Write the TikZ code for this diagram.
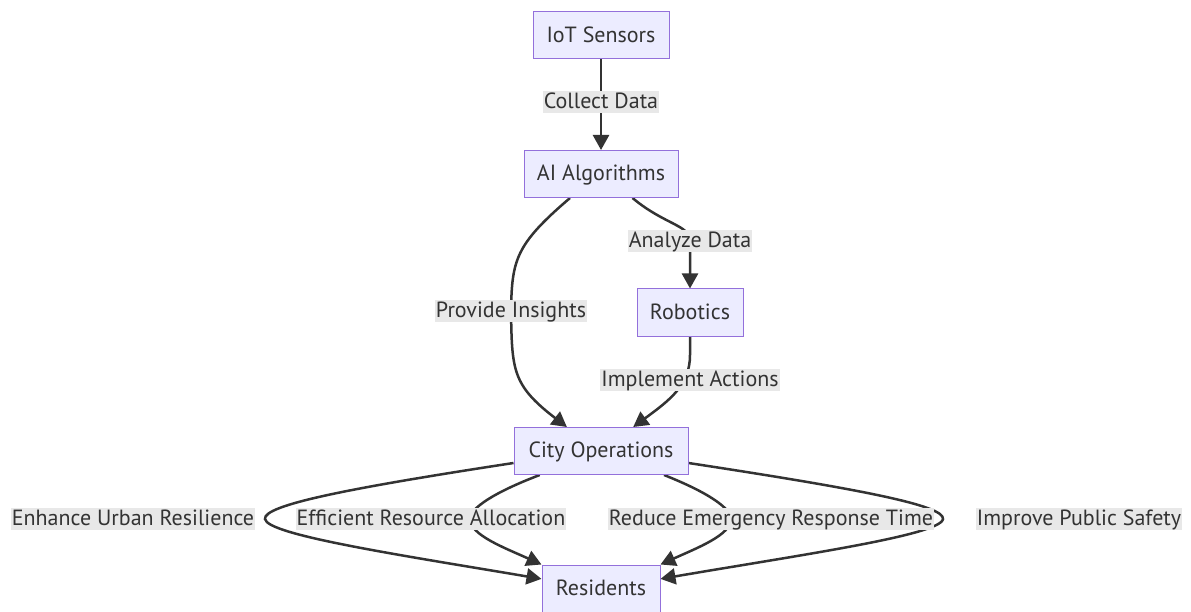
\documentclass[tikz,border=0pt]{standalone}
\usepackage{fontspec}
\setmainfont{PT Sans}
\usetikzlibrary{arrows.meta,calc}
\definecolor{nodefill}{HTML}{ECECFF}
\definecolor{nodeline}{HTML}{9370DB}
\definecolor{ink}{HTML}{333333}
\definecolor{labelbg}{HTML}{E8E8E8}
\pgfdeclarelayer{edges}
\pgfsetlayers{edges,main}
\begin{document}
\begin{tikzpicture}[x=1pt,y=-1pt,
  txt/.style={text=ink, font=\fontsize{22}{26}\selectfont,
    text height=17.5pt, text depth=4pt},
  box/.style={txt, draw=nodeline, fill=nodefill, line width=1pt,
    minimum height=47pt, inner sep=0pt},
  elabel/.style={txt, fill=labelbg, inner xsep=1pt, inner ysep=0.25pt},
  link/.style={draw=ink, line width=2.5pt, -{Triangle[length=15pt,width=16pt]}}
]
\useasboundingbox (0,0) rectangle (1191,612);

% process boxes
\node[box, minimum width=136pt] (iot)  at (601,35.5)  {IoT Sensors};
\node[box, minimum width=154pt] (ai)   at (601,174)   {AI Algorithms};
\node[box, minimum width=106pt] (rob)  at (690,312.5) {Robotics};
\node[box, minimum width=174pt] (city) at (601,451)   {City Operations};
\node[box, minimum width=118pt] (res)  at (601,588.5) {Residents};

% edge labels
\node[elabel] (collect)   at (601,102) {Collect Data};
\node[elabel] (analyze)   at (690,241) {Analyze Data};
\node[elabel] (provide)   at (511,311) {Provide Insights};
\node[elabel] (implement) at (690,380) {Implement Actions};
\node[elabel] (enhance)   at (133,519) {Enhance Urban Resilience};
\node[elabel] (efficient) at (431,519) {Efficient Resource Allocation};
\node[elabel] (reduce)    at (771,519) {Reduce Emergency Response Time};
\node[elabel] (improve)   at (1079,519) {Improve Public Safety};

% turning points of the outer loops
\coordinate (leftturn)  at (265,519);
\coordinate (rightturn) at (943,519);
\coordinate (robdrop)   at (690,355);

\begin{pgfonlayer}{edges}
  \draw[link] (iot.south) -- (ai.north);
  \draw[link] ($(ai.south west)!0.3!(ai.south east)$)
    .. controls (515,245) and (512,260) .. (provide.center)
    .. controls (512,370) and (512,385) .. ($(city.north west)!0.305!(city.north east)$);
  \draw[link] ($(ai.south west)!0.703!(ai.south east)$)
    .. controls (665,225) and (690,225) .. (analyze.center) -- (rob.north);
  \draw[link] (rob.south) -- (robdrop)
    .. controls (690,385) and (670,400) .. ($(city.north west)!0.684!(city.north east)$);
  \draw[link] ($(city.north west)!0.75!(city.south west)$)
    .. controls (350,488) and (263,505) .. (leftturn)
    .. controls (267,535) and (400,555) .. ($(res.north west)!0.3!(res.south west)$);
  \draw[link] ($(city.south west)!0.15!(city.south east)$)
    .. controls (495,492) and (470,508) .. (470,519)
    .. controls (470,535) and (505,548) .. (res.north west);
  \draw[link] ($(city.south west)!0.86!(city.south east)$)
    .. controls (707,492) and (731,508) .. (731,519)
    .. controls (731,535) and (697,548) .. (res.north east);
  \draw[link] ($(city.north east)!0.75!(city.south east)$)
    .. controls (852,488) and (945,505) .. (rightturn)
    .. controls (941,535) and (800,555) .. ($(res.north east)!0.3!(res.south east)$);
\end{pgfonlayer}
\end{tikzpicture}
\end{document}
